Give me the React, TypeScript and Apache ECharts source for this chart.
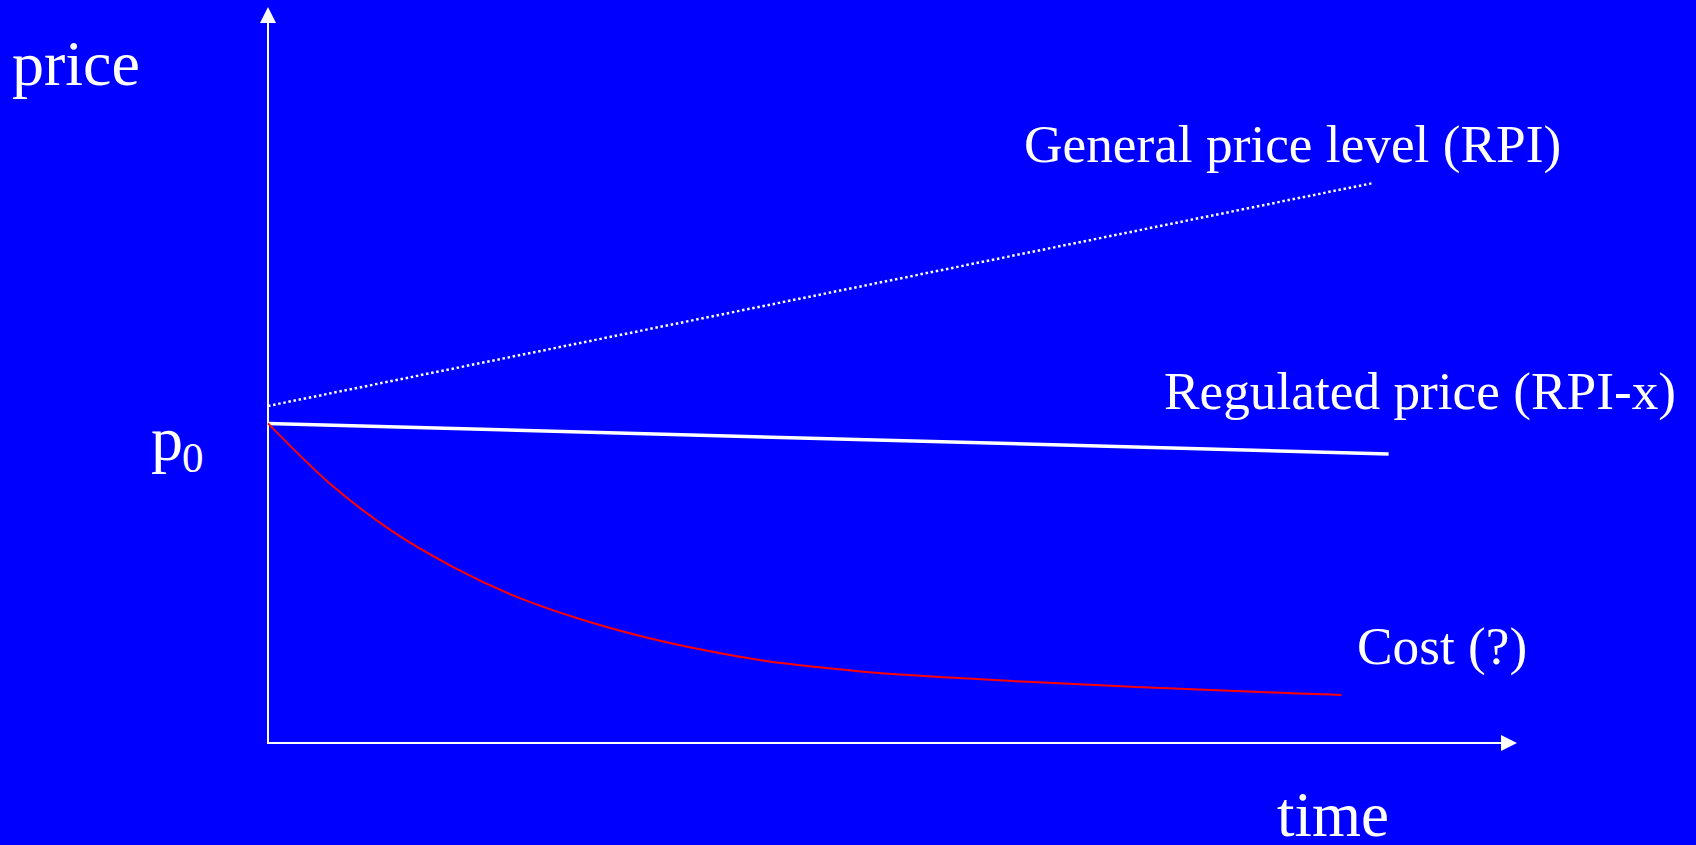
import React, { useEffect, useRef } from "react";
import * as echarts from "echarts";

// Data (x: time units 0..100, y: price units 0..100)
const rpiTime = [0, 89];
const rpiValues = [46.3, 76.9];
const regTime = [0, 90.3];
const regValues = [43.9, 39.7];
const costTime = [0, 5, 10, 15, 20, 25, 30, 35, 40, 45, 50, 55, 60, 65, 70, 75, 80, 85, 86.5];
const costValues = [43.9, 35.6, 29.1, 24.1, 20.1, 17.1, 14.7, 12.8, 11.3, 10.3, 9.5, 9.0, 8.5, 8.1, 7.7, 7.35, 7.0, 6.7, 6.6];

const seriesLabels = ["General price level (RPI)", "Regulated price (RPI-x)", "Cost (?)"];
const axisTitles = ["price", "time"];

const FONT = "'Liberation Serif', 'Times New Roman', serif";

export default function App() {
  const ref = useRef<HTMLDivElement>(null);
  useEffect(() => {
    document.body.style.margin = "0";
    const chart = echarts.init(ref.current!, null, { renderer: "svg" });
    const zip = (xs: number[], ys: number[]) => xs.map((x, i) => [x, ys[i]]);
    const txt = (text: string, x: number, y: number, size: number) => ({
      type: "text",
      x,
      y,
      style: {
        text,
        fill: "#ffffff",
        font: `${size}px ${FONT}`,
        align: "left",
        verticalAlign: "middle",
      },
    });
    chart.setOption({
      animation: false,
      backgroundColor: "#0000ff",
      grid: { left: 268, right: 187, top: 15, bottom: 102 },
      xAxis: {
        type: "value",
        min: 0,
        max: 100,
        axisLine: {
          show: true,
          symbol: ["none", "triangle"],
          symbolSize: [16, 16],
          lineStyle: { color: "#ffffff", width: 2 },
        },
        axisTick: { show: false },
        axisLabel: { show: false },
        splitLine: { show: false },
      },
      yAxis: {
        type: "value",
        min: 0,
        max: 100,
        axisLine: {
          show: true,
          symbol: ["none", "triangle"],
          symbolSize: [16, 16],
          lineStyle: { color: "#ffffff", width: 2 },
        },
        axisTick: { show: false },
        axisLabel: { show: false },
        splitLine: { show: false },
      },
      series: [
        {
          name: seriesLabels[0],
          type: "line",
          data: zip(rpiTime, rpiValues),
          showSymbol: false,
          silent: true,
          lineStyle: { color: "#ffffff", width: 2.5, type: [2.5, 2.7] },
        },
        {
          name: seriesLabels[1],
          type: "line",
          data: zip(regTime, regValues),
          showSymbol: false,
          silent: true,
          lineStyle: { color: "#ffffff", width: 3.5 },
        },
        {
          name: seriesLabels[2],
          type: "line",
          data: zip(costTime, costValues),
          showSymbol: false,
          silent: true,
          smooth: 0.3,
          lineStyle: { color: "#ff0000", width: 2 },
        },
      ],
      graphic: [
        txt(axisTitles[0], 12, 63, 64),
        txt(axisTitles[1], 1277, 815, 63),
        txt(seriesLabels[0], 1024, 144, 53.3),
        txt(seriesLabels[1], 1164, 391, 53.3),
        txt(seriesLabels[2], 1357, 646, 53.3),
        txt("p", 151, 438, 64),
        txt("0", 182, 457, 43),
      ],
    });
    return () => chart.dispose();
  }, []);
  return (
    <div
      ref={ref}
      style={{ position: "fixed", left: 0, top: 0, width: 1696, height: 845 }}
    />
  );
}
